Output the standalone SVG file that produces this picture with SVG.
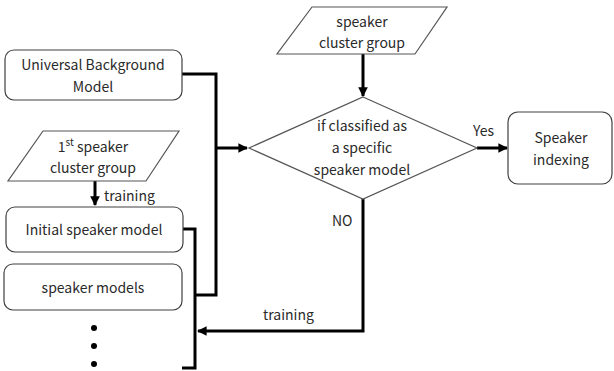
<svg xmlns="http://www.w3.org/2000/svg" width="614" height="371" viewBox="0 0 614 371">
  <style>
    .box { fill: #fff; stroke: #404040; stroke-width: 1.2; }
    .shape { fill: #fff; stroke: #555; stroke-width: 1.2; }
    .wire { fill: none; stroke: #000; stroke-width: 3; }
    text { font-family: "Noto Sans CJK KR", "Noto Sans", sans-serif; font-size: 14px; fill: #2a2a2a; }
    .c { text-anchor: middle; }
  </style>
  <defs>
    <marker id="arrow" viewBox="0 0 10 10" refX="9" refY="5" markerWidth="3.2" markerHeight="3.2" orient="auto">
      <path d="M0,0 L10,5 L0,10 z" fill="#000"/>
    </marker>
  </defs>

  <rect width="614" height="371" fill="#fff"/>

  <!-- connectors -->
  <g id="connectors">
    <!-- UBM + speaker models bracket feeding the decision -->
    <polyline class="wire" points="182,74 216,74 216,295 195,295"/>
    <line class="wire" x1="216" y1="148" x2="247" y2="148" marker-end="url(#arrow)"/>
    <!-- initial speaker model bracket -->
    <polyline class="wire" points="183,229 195,229 195,368 182,368"/>
    <!-- 1st cluster group to initial model -->
    <line class="wire" x1="95" y1="181" x2="95" y2="205" stroke-width="2" marker-end="url(#arrow)"/>
    <!-- cluster group to decision -->
    <line class="wire" x1="363" y1="54" x2="363" y2="96" stroke-width="2" marker-end="url(#arrow)"/>
    <!-- yes branch -->
    <line class="wire" x1="477" y1="148" x2="507" y2="148" marker-end="url(#arrow)"/>
    <!-- no branch, back to training -->
    <polyline class="wire" points="363,199 363,331 198,331" marker-end="url(#arrow)"/>
  </g>

  <g id="ubm">
    <rect class="box" x="5" y="50" width="177" height="50" rx="9"/>
    <text class="c" x="93" y="70">Universal Background</text>
    <text class="c" x="93" y="92">Model</text>
  </g>

  <g id="first-cluster">
    <polygon class="shape" points="43,131 179,131 146,181 8,181"/>
    <text class="c" x="93" y="152">1<tspan font-size="10" dy="-6">st</tspan><tspan dy="6"> speaker</tspan></text>
    <text class="c" x="93" y="173">cluster group</text>
  </g>

  <g id="training-label-1">
    <text x="104" y="201">training</text>
  </g>

  <g id="initial-model">
    <rect class="box" x="6" y="207" width="177" height="45" rx="9"/>
    <text class="c" x="94" y="235">Initial speaker model</text>
  </g>

  <g id="speaker-models">
    <rect class="box" x="4" y="264" width="178" height="46" rx="9"/>
    <text class="c" x="93" y="293">speaker models</text>
  </g>

  <g id="ellipsis">
    <circle cx="94" cy="328" r="3" fill="#000"/>
    <circle cx="94" cy="346" r="3" fill="#000"/>
    <circle cx="94" cy="364" r="3" fill="#000"/>
  </g>

  <g id="cluster-group">
    <polygon class="shape" points="312,7 447,7 415,54 277,54"/>
    <text class="c" x="362" y="27">speaker</text>
    <text class="c" x="362" y="48">cluster group</text>
  </g>

  <g id="decision">
    <polygon class="shape" points="363,97 477,148 363,199 249,148"/>
    <text class="c" x="362" y="131">if classified as</text>
    <text class="c" x="362" y="153">a specific</text>
    <text class="c" x="362" y="175">speaker model</text>
  </g>

  <g id="yes-label">
    <text x="473" y="136">Yes</text>
  </g>

  <g id="no-label">
    <text x="332" y="226">NO</text>
  </g>

  <g id="training-label-2">
    <text x="263" y="320">training</text>
  </g>

  <g id="speaker-indexing">
    <rect class="box" x="508" y="112" width="104" height="72" rx="10"/>
    <text class="c" x="561" y="143">Speaker</text>
    <text class="c" x="561" y="165">indexing</text>
  </g>
</svg>
